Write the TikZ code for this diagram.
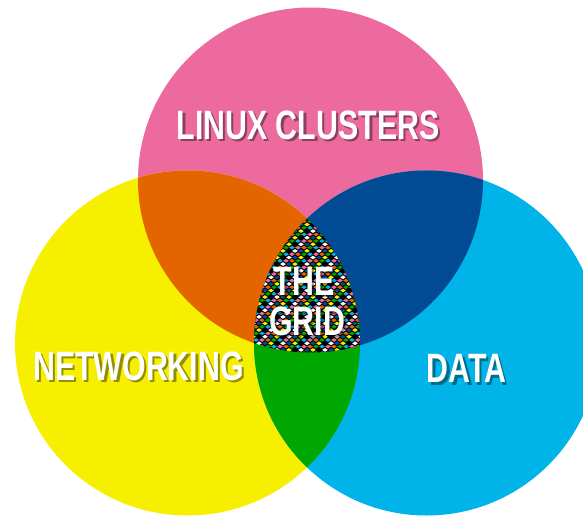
\documentclass[tikz,border=0pt]{standalone}
\usepackage{fontspec}
\setmainfont[FakeStretch=0.74]{Liberation Sans}
\definecolor{ClusterPink}{HTML}{EC6A9E}
\definecolor{NetYellow}{HTML}{F7EF00}
\definecolor{DataCyan}{HTML}{00B4EA}
\definecolor{MixOrange}{HTML}{E46400}
\definecolor{MixNavy}{HTML}{004B93}
\definecolor{MixGreen}{HTML}{00A700}
% colours of the grid pattern
\colorlet{gc0}{MixOrange}
\colorlet{gc1}{NetYellow}
\colorlet{gc2}{MixGreen}
\colorlet{gc3}{black}
\colorlet{gc4}{DataCyan}
\colorlet{gc5}{white}
\colorlet{gc6}{ClusterPink}
\colorlet{gc7}{MixNavy}
\tikzset{
  % White label
  LBL/.style={text=white,inner sep=0pt,
              font=\bfseries\fontsize{41}{43}\selectfont},
  % Its shadow
  SHD/.style={LBL,text=black,opacity=0.4}
}
\newcommand{\pinkC}{(310.5,180) circle [radius=172.5pt]}
\newcommand{\yellowC}{(187.5,343) circle [radius=172.5pt]}
\newcommand{\cyanC}{(426.5,343) circle [radius=172.5pt]}

\begin{document}
\begin{tikzpicture}[x=1pt,y=-1pt]
  \useasboundingbox (0,0) rectangle (583,516);
  % the three sets
  \fill[ClusterPink] \pinkC;
  \fill[NetYellow]   \yellowC;
  \fill[DataCyan]    \cyanC;
  % pairwise overlaps
  \begin{scope}
    \clip \pinkC;
    \fill[MixOrange] \yellowC;
    \fill[MixNavy]   \cyanC;
  \end{scope}
  \begin{scope}
    \clip \yellowC;
    \fill[MixGreen] \cyanC;
  \end{scope}
  % the centre: checkered pattern
  \begin{scope}
    \clip \pinkC;
    \clip \yellowC;
    \clip \cyanC;
    \fill[black] (240,200) rectangle (380,360);
    \foreach \r in {0,...,46} {
      \foreach \c in {0,...,22} {
        \pgfmathtruncatemacro{\k}{mod(\r+2*\c,8)}
        \pgfmathsetmacro{\px}{244+\c*6+mod(\r,2)*3}
        \pgfmathsetmacro{\py}{208+\r*3.3}
        \fill[gc\k] (\px,\py) ++(-2.8,0) -- ++(2.8,-1.9)
          -- ++(2.8,1.9) -- ++(-2.8,1.9) -- cycle;
      }
    }
  \end{scope}
  % labels with drop shadow
  \foreach \nm/\lx/\ly/\txt in {linux/308/125/LINUX CLUSTERS,
                                net/138.5/366/NETWORKING,
                                data/466.5/368.5/DATA,
                                the/304/281/THE,
                                grid/307/321.5/GRID} {
    \node[SHD] at (\lx+2.5,\ly+2.5) {\txt};
    \node[LBL] (\nm) at (\lx,\ly) {\txt};
  }
\end{tikzpicture}
\end{document}
